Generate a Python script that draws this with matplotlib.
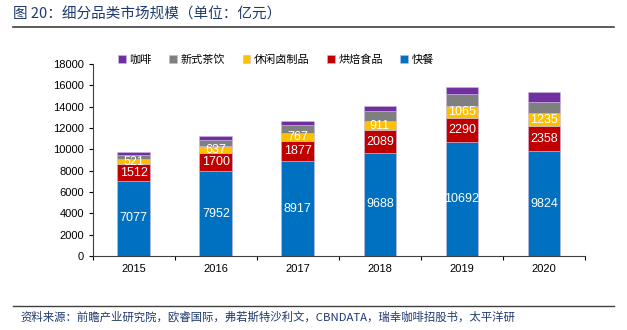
import matplotlib
matplotlib.use('Agg')
import matplotlib.pyplot as plt
import numpy as np

plt.rcParams['font.family'] = ['Noto Sans CJK SC', 'DejaVu Sans']

years = ['2015', '2016', '2017', '2018', '2019', '2020']
fast_food = [7077, 7952, 8917, 9688, 10692, 9824]
bakery = [1512, 1700, 1877, 2089, 2290, 2358]
snacks = [521, 637, 767, 911, 1065, 1235]
tea = [370, 560, 690, 870, 1100, 1070]      # estimated, not labelled
coffee = [310, 400, 440, 500, 720, 870]     # estimated, not labelled

series = [
    ('快餐', fast_food, '#0070C0', True),
    ('烘焙食品', bakery, '#C00000', True),
    ('休闲卤制品', snacks, '#FFC000', True),
    ('新式茶饮', tea, '#7F7F7F', False),
    ('咖啡', coffee, '#7030A0', False),
]

fig = plt.figure(figsize=(6.27, 3.30), dpi=100)
ax = fig.add_axes([0.148, 0.224, 0.785, 0.582])

x = np.arange(len(years))
bottom = np.zeros(len(years))
handles = {}
for name, vals, color, show in series:
    vals = np.array(vals)
    b = ax.bar(x, vals, 0.4, bottom=bottom, color=color, edgecolor='#C9B8E0', linewidth=0.4, label=name)
    handles[name] = b
    if show:
        for xi, v, bt in zip(x, vals, bottom):
            ax.text(xi, bt + v / 2, str(v), ha='center', va='center', color='white', fontsize=9,
                    family='Liberation Sans')
    bottom += vals

ax.set_xlim(-0.5, 5.5)
ax.set_ylim(0, 18000)
ax.set_yticks(np.arange(0, 18001, 2000))
ax.set_xticks(x)
ax.set_xticklabels(years, family='Liberation Sans', fontsize=8)
ax.set_xticks(np.arange(-0.5, 6, 1), minor=True)
ax.tick_params(axis='x', which='major', length=0, pad=6)
ax.tick_params(axis='x', which='minor', length=3, direction='out', width=0.8)
ax.tick_params(axis='y', length=3, direction='out', width=0.8, labelsize=8)
for lab in ax.get_yticklabels():
    lab.set_family('Liberation Sans')
ax.spines['top'].set_visible(False)
ax.spines['right'].set_visible(False)
ax.spines['left'].set_color('#404040')
ax.spines['bottom'].set_color('#404040')

order = ['咖啡', '新式茶饮', '休闲卤制品', '烘焙食品', '快餐']
fig.legend([handles[n] for n in order], order, loc='center', bbox_to_anchor=(0.44, 0.82),
           ncol=5, frameon=False, fontsize=8, handlelength=0.7, handleheight=0.7,
           handletextpad=0.3, columnspacing=1.6)

fig.text(0.02, 0.955, '图 20：细分品类市场规模（单位：亿元）', color='#1F3A6E', fontsize=10.5, va='center')
fig.add_artist(plt.Line2D([0.02, 0.98], [0.918, 0.918], color='#404040', linewidth=1.2))
fig.add_artist(plt.Line2D([0.02, 0.98], [0.073, 0.073], color='#404040', linewidth=1.0))
fig.text(0.032, 0.04, '资料来源：前瞻产业研究院，欧睿国际，弗若斯特沙利文，CBNDATA，瑞幸咖啡招股书，太平洋研',
         color='#1F3A6E', fontsize=8.2, style='italic', va='center')

fig.savefig('out.png', dpi=100)
